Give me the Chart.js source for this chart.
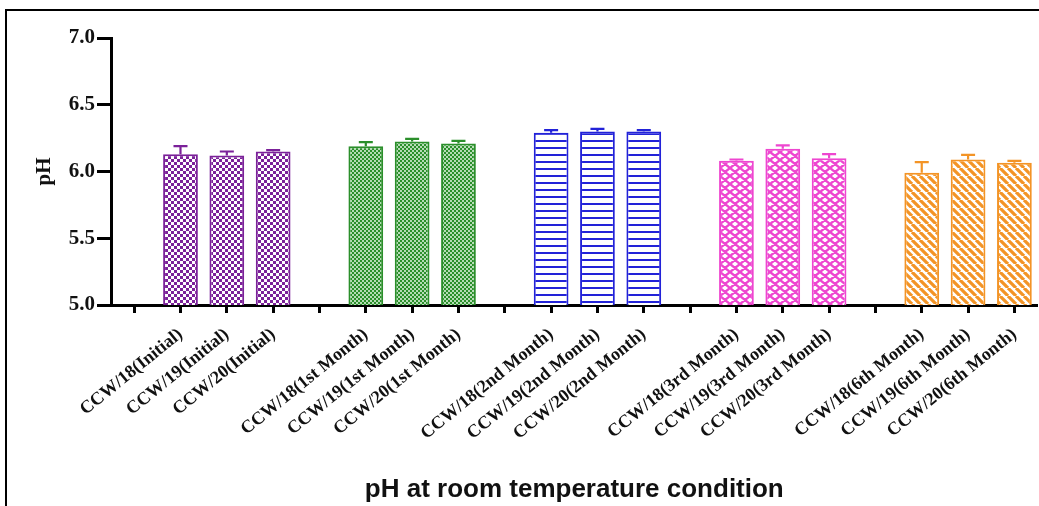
<!DOCTYPE html>
<html>
<head>
<meta charset="utf-8">
<title>pH at room temperature condition</title>
<script src="https://cdn.jsdelivr.net/npm/chart.js@4"></script>
<style>
    html, body { margin: 0; padding: 0; background: #fff; overflow: hidden; }
    #wrap { position: relative; width: 1039px; height: 506px; }
    #frame {
        position: absolute; left: 5px; top: 9px; right: 0; bottom: 0;
        border-top: 2.5px solid #000; border-left: 2.5px solid #000;
        pointer-events: none;
    }
</style>
</head>
<body>
<div id="wrap">
    <canvas id="ph-chart" width="1039" height="506"></canvas>
    <div id="frame"></div>
</div>
<script>
// Samples and storage periods
const samples = ['CCW/18', 'CCW/19', 'CCW/20'];
const periods = ['Initial', '1st Month', '2nd Month', '3rd Month', '6th Month'];

// Mean pH (CCW/18, CCW/19, CCW/20) per period
const phInitial = [6.13, 6.12, 6.15];
const ph1stMonth = [6.19, 6.225, 6.21];
const ph2ndMonth = [6.29, 6.30, 6.30];
const ph3rdMonth = [6.08, 6.17, 6.10];
const ph6thMonth = [5.99, 6.09, 6.065];

// Upper error bar (SD) per period
const sdInitial = [0.06, 0.03, 0.01];
const sd1stMonth = [0.03, 0.02, 0.02];
const sd2ndMonth = [0.02, 0.02, 0.01];
const sd3rdMonth = [0.01, 0.025, 0.03];
const sd6thMonth = [0.08, 0.035, 0.015];

const yTicks = [5.0, 5.5, 6.0, 6.5, 7.0];

const groupColors = ['#7b2199', '#2b8f2b', '#2222d8', '#ee46d0', '#f39426'];
const groupPatterns = ['checker', 'fine', 'hlines', 'lattice', 'diagonal'];

const means = [phInitial, ph1stMonth, ph2ndMonth, ph3rdMonth, ph6thMonth];
const errors = [sdInitial, sd1stMonth, sd2ndMonth, sd3rdMonth, sd6thMonth];

// Hatch fills like the GraphPad bars
function makePattern(kind, color) {
    const c = document.createElement('canvas');
    const ctx = c.getContext('2d');
    if (kind === 'checker') {
        c.width = c.height = 6;
        ctx.fillStyle = '#fff';
        ctx.fillRect(0, 0, 6, 6);
        ctx.fillStyle = color;
        ctx.fillRect(0, 0, 3, 3);
        ctx.fillRect(3, 3, 3, 3);
    } else if (kind === 'fine') {
        c.width = c.height = 4;
        ctx.fillStyle = '#b5dcb5';
        ctx.fillRect(0, 0, 4, 4);
        ctx.fillStyle = color;
        ctx.fillRect(0, 0, 2, 2);
        ctx.fillRect(2, 2, 2, 2);
    } else if (kind === 'hlines') {
        c.width = 4; c.height = 7;
        ctx.fillStyle = '#fff';
        ctx.fillRect(0, 0, 4, 7);
        ctx.fillStyle = color;
        ctx.fillRect(0, 0, 4, 2);
    } else if (kind === 'lattice') {
        c.width = 10; c.height = 8;
        ctx.fillStyle = '#fff';
        ctx.fillRect(0, 0, 10, 8);
        ctx.strokeStyle = color;
        ctx.lineWidth = 2.4;
        ctx.beginPath();
        [-10, 0, 10].forEach(dx => {
            ctx.moveTo(dx, 0); ctx.lineTo(dx + 10, 8);
            ctx.moveTo(dx + 10, 0); ctx.lineTo(dx, 8);
        });
        ctx.stroke();
    } else {
        c.width = c.height = 8;
        ctx.fillStyle = '#fff';
        ctx.fillRect(0, 0, 8, 8);
        ctx.strokeStyle = color;
        ctx.lineWidth = 3.2;
        ctx.beginPath();
        [-8, 0, 8].forEach(dx => {
            ctx.moveTo(dx, 0); ctx.lineTo(dx + 8, 8);
        });
        ctx.stroke();
    }
    return c.getContext('2d').createPattern(c, 'repeat');
}

// One empty slot before each group of three bars
const labels = [], values = [], errs = [], borders = [], fills = [];
periods.forEach((period, g) => {
    const fill = makePattern(groupPatterns[g], groupColors[g]);
    labels.push(''); values.push(null); errs.push(null);
    borders.push(groupColors[g]); fills.push(fill);
    samples.forEach((s, j) => {
        labels.push(`${s}(${period})`);
        values.push(means[g][j]);
        errs.push(errors[g][j]);
        borders.push(groupColors[g]);
        fills.push(fill);
    });
});

const errorBars = {
    id: 'errorBars',
    afterDatasetsDraw(chart) {
        const ctx = chart.ctx;
        const y = chart.scales.y;
        chart.getDatasetMeta(0).data.forEach((bar, i) => {
            if (values[i] == null) return;
            const top = y.getPixelForValue(values[i] + errs[i]);
            ctx.save();
            ctx.strokeStyle = borders[i];
            ctx.lineWidth = 2.2;
            ctx.beginPath();
            ctx.moveTo(bar.x, bar.y);
            ctx.lineTo(bar.x, top);
            ctx.moveTo(bar.x - 7, top);
            ctx.lineTo(bar.x + 7, top);
            ctx.stroke();
            ctx.restore();
        });
    }
};

const serif = '"Liberation Serif", "Times New Roman", serif';

new Chart(document.getElementById('ph-chart'), {
    type: 'bar',
    data: {
        labels: labels,
        datasets: [{
            data: values,
            backgroundColor: fills,
            borderColor: borders,
            borderWidth: 2,
            barPercentage: 0.75,
            categoryPercentage: 1
        }]
    },
    options: {
        responsive: false,
        animation: false,
        layout: { padding: { top: 38, left: 0, right: 0, bottom: 0 } },
        plugins: {
            legend: { display: false },
            tooltip: { enabled: false }
        },
        scales: {
            x: {
                offset: true,
                grid: {
                    drawOnChartArea: false,
                    offset: false,
                    tickLength: 8,
                    tickWidth: 3,
                    tickColor: '#000'
                },
                border: { color: '#000', width: 3 },
                ticks: {
                    autoSkip: false,
                    minRotation: 39,
                    maxRotation: 39,
                    padding: 11,
                    color: '#111',
                    font: { family: serif, size: 18, weight: 'bold' }
                },
                title: {
                    display: true,
                    text: 'pH at room temperature condition',
                    color: '#111',
                    padding: { top: 0, bottom: 1 },
                    font: { family: '"Liberation Sans", Arial, sans-serif', size: 26, weight: 'bold' }
                },
                afterFit: s => { s.height = 201; }
            },
            y: {
                min: 5,
                max: 7,
                afterBuildTicks: s => { s.ticks = yTicks.map(v => ({ value: v })); },
                grid: {
                    drawOnChartArea: false,
                    tickLength: 14,
                    tickWidth: 3,
                    tickColor: '#000'
                },
                border: { color: '#000', width: 3 },
                ticks: {
                    padding: 2,
                    color: '#111',
                    callback: v => v.toFixed(1),
                    font: { family: serif, size: 21, weight: 'bold' }
                },
                title: {
                    display: true,
                    text: 'pH',
                    color: '#111',
                    padding: { top: 32, bottom: 0 },
                    font: { family: serif, size: 21, weight: 'bold' }
                },
                afterFit: s => { s.width = 111; }
            }
        }
    },
    plugins: [errorBars]
});
</script>
</body>
</html>
